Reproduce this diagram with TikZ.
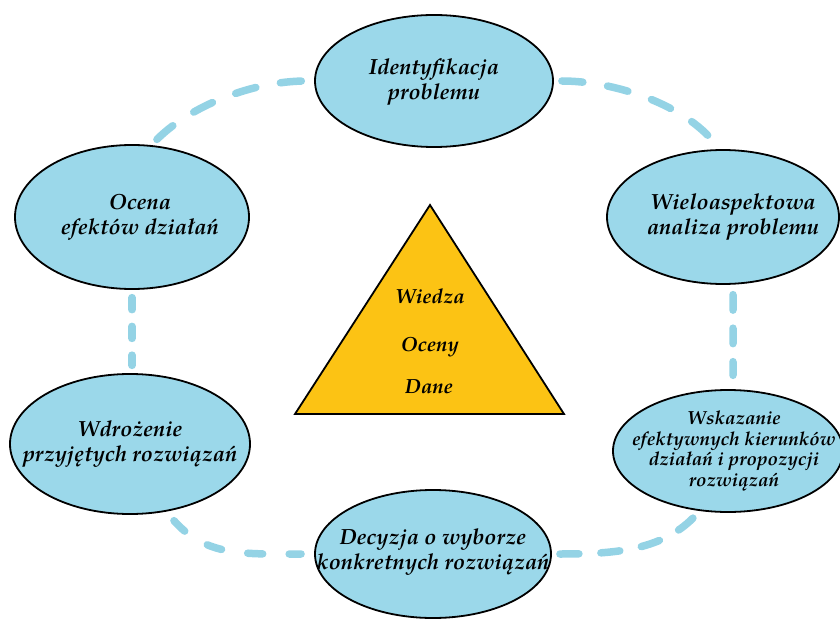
\documentclass[tikz,border=0pt]{standalone}
\usepackage{fontspec}
\setmainfont{texgyrepagella}[Extension=.otf, UprightFont=*-regular, BoldFont=*-bold, ItalicFont=*-italic, BoldItalicFont=*-bolditalic]
\usetikzlibrary{shapes.geometric}
\definecolor{elfill}{HTML}{9BD8EA}
\definecolor{dashc}{HTML}{94D3E5}
\definecolor{trifill}{HTML}{FCC314}
\tikzset{
  stage/.style={ellipse, draw=black, line width=1.8bp, fill=elfill, inner sep=0pt},
  etext/.style={align=center, inner sep=0pt, font=\fontsize{22}{25}\selectfont\bfseries\itshape},
  small/.style={font=\fontsize{19}{21}\selectfont\bfseries\itshape},
  link/.style={dashc, line width=7.5bp, line cap=round, dash pattern=on 21bp off 25bp},
  trilabel/.style={anchor=base, font=\fontsize{20.5}{25}\selectfont\bfseries\itshape},
}
\begin{document}
\begin{tikzpicture}[x=1bp,y=-1bp]
\useasboundingbox (0,0) rectangle (840,619);
% stages
\node[stage, minimum width=238bp, minimum height=132bp] (ident) at (434,81) {};
\node[stage, minimum width=232bp, minimum height=134bp] (wielo) at (723,217) {};
\node[stage, minimum width=230bp, minimum height=122bp] (wisk) at (728,451) {};
\node[stage, minimum width=236bp, minimum height=128bp] (dec) at (433,554) {};
\node[stage, minimum width=240bp, minimum height=140bp] (wdroz) at (130,444) {};
\node[stage, minimum width=234bp, minimum height=144bp] (ocena) at (132,217) {};
\node[etext] (identT) at ([yshift=-1bp]ident.center) {Identyfikacja\\problemu};
\node[etext] (wieloT) at ([xshift=10bp]wielo.center) {Wieloaspektowa\\analiza problemu};
\node[etext, small] (wiskT) at ([xshift=6bp]wisk.center) {Wskazanie\\efektywnych kierunków\\działań i propozycji\\rozwiązań};
\node[etext] (decT) at ([yshift=2bp]dec.center) {Decyzja o wyborze\\konkretnych rozwiązań};
\node[etext] (wdrozT) at (wdroz.center) {Wdrożenie\\przyjętych rozwiązań};
\node[etext] (ocenaT) at ([xshift=8bp]ocena.center) {Ocena\\efektów działań};
% connectors
\draw[link, shorten <=8bp, shorten >=8bp] (ocena.75) .. controls +(40,-40) and +(-60,0) .. (ident.west);
\draw[link, shorten <=8bp, shorten >=6bp] (ident.east) .. controls +(60,0) and +(-35,-45) .. (wielo.93);
\draw[link, dash pattern=on 15.5bp off 18bp, shorten <=9.75bp, shorten >=13.75bp] ([xshift=10bp]wielo.south) -- ([xshift=5bp]wisk.north);
\draw[link, dash pattern=on 19bp off 22bp, shorten <=8bp, shorten >=10bp] (dec.east) .. controls +(60,0) and +(-40,40) .. (wisk.-115);
\draw[link, dash pattern=on 15bp off 26.5bp, shorten <=12bp, shorten >=13bp] (wdroz.-62) .. controls +(40,45) and +(-70,0) .. (dec.west);
\draw[link, dash pattern=on 12bp off 16.75bp, shorten <=7.75bp, shorten >=7.75bp] (ocena.south) -- (ocena.south |- wdroz.north);
% triangle
\coordinate (ta) at (430,205);
\coordinate (tl) at (295,414);
\coordinate (tr) at (564,414);
\draw[fill=trifill, line width=1.8bp, line join=miter] (ta) -- (tl) -- (tr) -- cycle;
\node[trilabel] (wiedza) at (430,303) {Wiedza};
\node[trilabel] (oceny) at (430,351) {Oceny};
\node[trilabel] (dane) at (429,393) {Dane};
\end{tikzpicture}
\end{document}
